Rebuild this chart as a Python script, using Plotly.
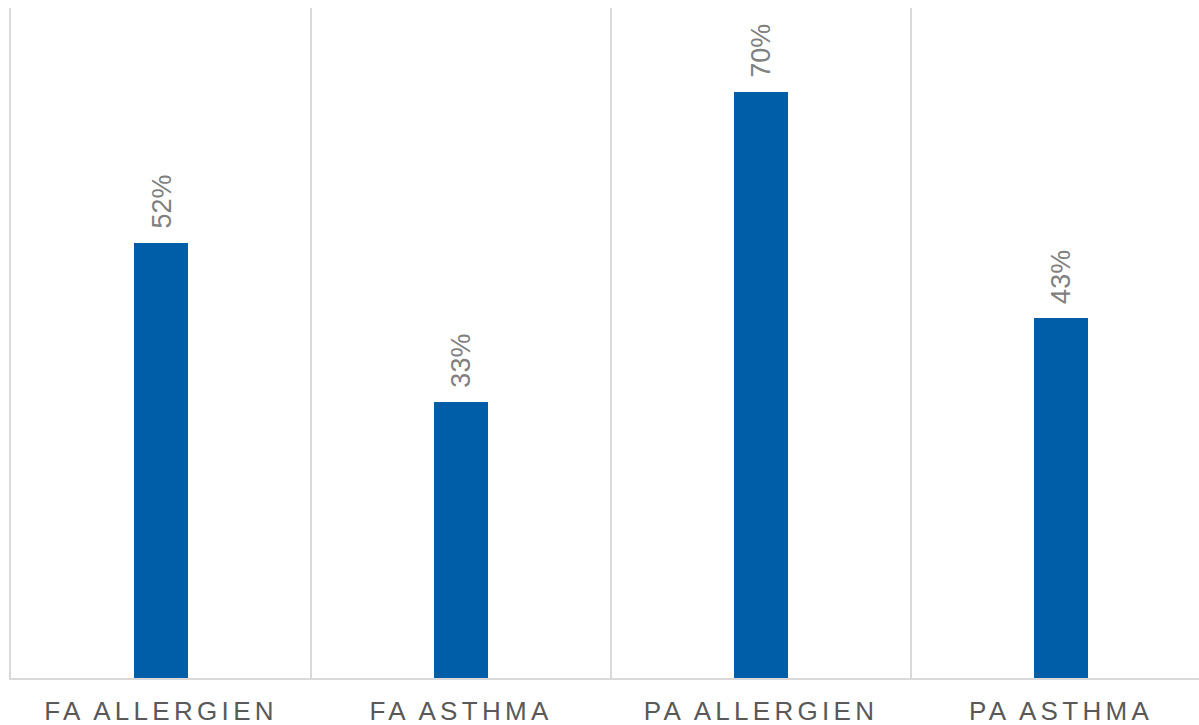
import plotly.graph_objects as go

categories = ["FA ALLERGIEN", "FA ASTHMA", "PA ALLERGIEN", "PA ASTHMA"]
values = [52, 33, 70, 43]

FONT = "Liberation Sans, Arial, sans-serif"
BAR_COLOR = "#005DA8"
GRID_COLOR = "#D9D9D9"

fig = go.Figure(
    go.Bar(
        x=categories,
        y=values,
        width=0.183,
        marker=dict(color=BAR_COLOR, line=dict(width=0)),
        hoverinfo="skip",
    )
)

# rotated value labels above each bar
for cat, val in zip(categories, values):
    fig.add_annotation(
        x=cat,
        y=val,
        text=f"{val}%",
        textangle=-90,
        showarrow=False,
        xanchor="center",
        yanchor="bottom",
        yshift=12,
        font=dict(family=FONT, size=27, color="#808080"),
    )

fig.update_layout(
    width=1199,
    height=725,
    margin=dict(l=11, r=0, t=8, b=47),
    paper_bgcolor="white",
    plot_bgcolor="white",
    showlegend=False,
    bargap=0,
    xaxis=dict(
        type="category",
        range=[-0.5, 3.46],
        automargin=False,
        tickson="boundaries",
        showgrid=True,
        gridcolor=GRID_COLOR,
        gridwidth=1.5,
        showline=True,
        linecolor=GRID_COLOR,
        linewidth=1.5,
        ticks="",
        ticklabelstandoff=9,
        tickfont=dict(family=FONT, size=26, color="#595959"),
        fixedrange=True,
    ),
    yaxis=dict(
        range=[0, 80],
        automargin=False,
        showgrid=False,
        zeroline=False,
        showline=True,
        linecolor=GRID_COLOR,
        linewidth=1.5,
        showticklabels=False,
        ticks="",
        fixedrange=True,
    ),
)

# widen the letter spacing of the category labels
spacing_js = """
var gd = document.getElementById('{plot_id}');
function spaceTicks() {
  gd.querySelectorAll('.xtick text').forEach(function (t) {
    t.style.letterSpacing = '4.3px';
  });
}
spaceTicks();
gd.on('plotly_afterplot', spaceTicks);
"""

fig.write_html("out.html", post_script=spacing_js, config={"displayModeBar": False})
